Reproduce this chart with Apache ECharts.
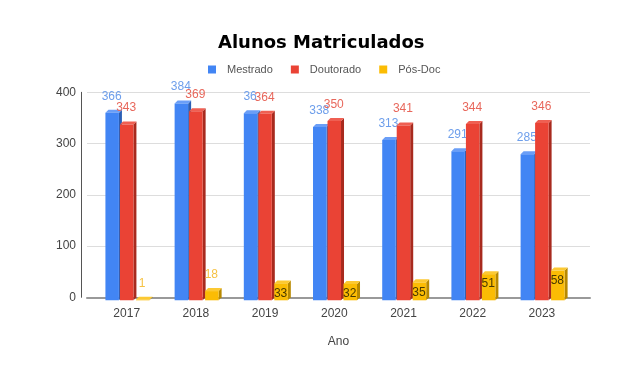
<!DOCTYPE html>
<html><head><meta charset="utf-8">
<script src="https://cdn.jsdelivr.net/npm/echarts@6/dist/echarts.min.js"></script>
<style>html,body{margin:0;padding:0;background:#fff}#c{width:635px;height:383px}</style>
</head><body><div id="c"></div>
<script>
const years = ['2017', '2018', '2019', '2020', '2021', '2022', '2023'];
const mestrado = [366, 384, 365, 338, 313, 291, 285];
const mestradoLabels = ['366', '384', '36', '338', '313', '291', '285'];
const doutorado = [343, 369, 364, 350, 341, 344, 346];
const posdoc = [1, 18, 33, 32, 35, 51, 58];
const yTicks = [0, 100, 200, 300, 400];
const seriesNames = ['Mestrado', 'Doutorado', 'Pós-Doc'];

const FONT = '"Liberation Sans", Arial, sans-serif';
const FACE_W = 13.5, DEPTH = 3;

function render(offset, colors, labelText, labelColor, insideColor, insideMin) {
  return function (params, api) {
    const idx = params.dataIndex;
    const i = api.value(0), v = api.value(1);
    const t = api.coord([i, v]), b = api.coord([i, 0]);
    const x0 = t[0] + offset, x1 = x0 + FACE_W;
    const yt = t[1] + DEPTH, yb = b[1] + DEPTH;
    const children = [
      { type: 'polygon', shape: { points: [[x1, yt], [x1 + DEPTH, yt - DEPTH], [x1 + DEPTH, yb - DEPTH], [x1, yb]] }, style: { fill: colors[1] } },
      { type: 'polygon', shape: { points: [[x0, yt], [x0 + DEPTH, yt - DEPTH], [x1 + DEPTH, yt - DEPTH], [x1, yt]] }, style: { fill: colors[2] } },
      { type: 'rect', shape: { x: x0, y: yt, width: FACE_W, height: Math.max(yb - yt, 0) }, style: { fill: colors[0] } }
    ];
    const inside = insideMin != null && v >= insideMin;
    children.push({
      type: 'text', z2: 10,
      style: {
        text: labelText[idx], x: (x0 + x1) / 2 - 0.5, y: inside ? yt + 10 : t[1] - 13.5,
        align: 'center', verticalAlign: 'middle',
        fill: inside ? insideColor : labelColor, font: '12px ' + FONT
      }
    });
    return { type: 'group', children };
  };
}

const chart = echarts.init(document.getElementById('c'));
chart.setOption({
  animation: false,
  backgroundColor: '#fff',
  title: {
    text: 'Alunos Matriculados', left: 213, top: 29,
    textStyle: { fontSize: 18, fontWeight: 'bold', color: '#000', fontFamily: '"DejaVu Sans", sans-serif' }
  },
  legend: {
    data: seriesNames, left: 203, top: 59, icon: 'rect',
    itemWidth: 8, itemHeight: 8, itemGap: 18,
    textStyle: { fontSize: 11, color: '#555', fontFamily: FONT, padding: [0, 0, 0, 6] }
  },
  grid: { left: 87, right: 45, top: 92.3, bottom: 85.7, containLabel: false },
  xAxis: {
    type: 'value', min: -0.574, max: 6.695,
    name: 'Ano', nameLocation: 'middle', nameGap: 38,
    nameTextStyle: { fontSize: 12, color: '#444', fontFamily: FONT },
    axisLine: { show: true, onZero: false, lineStyle: { color: '#999', width: 2 } },
    axisTick: { show: false },
    splitLine: { show: false },
    axisLabel: {
      customValues: years.map((y, i) => i),
      formatter: v => years[Math.round(v)] || '',
      margin: 10, fontSize: 12, color: '#444', fontFamily: FONT
    }
  },
  yAxis: {
    type: 'value', min: yTicks[0], max: yTicks[yTicks.length - 1], interval: yTicks[1] - yTicks[0],
    offset: 6,
    axisLine: { show: true, onZero: false, lineStyle: { color: '#555', width: 1 } },
    axisTick: { show: false },
    axisLabel: { margin: 5, fontSize: 12, color: '#444', fontFamily: FONT },
    splitLine: { lineStyle: { color: '#ddd', width: 1 } }
  },
  series: [
    {
      name: seriesNames[0], type: 'custom', z: 2, itemStyle: { color: '#4285F4' },
      encode: { x: 0, y: 1 },
      data: mestrado.map((v, i) => [i, v]),
      renderItem: render(-21.3, ['#4285F4', '#2b5fb5', '#6a9ef7'], mestradoLabels, '#6d9eeb', null, null)
    },
    {
      name: seriesNames[1], type: 'custom', z: 3, itemStyle: { color: '#EA4335' },
      encode: { x: 0, y: 1 },
      data: doutorado.map((v, i) => [i, v]),
      renderItem: render(-6.8, ['#EA4335', '#a82a1e', '#ef5f52'], doutorado.map(String), '#e8675b', null, null)
    },
    {
      name: seriesNames[2], type: 'custom', z: 4, itemStyle: { color: '#FBBC04' },
      encode: { x: 0, y: 1 },
      data: posdoc.map((v, i) => [i, v]),
      renderItem: render(9.2, ['#FBBC04', '#b88900', '#fcc933'], posdoc.map(String), '#f6c244', '#4a3a00', 30)
    }
  ]
});
</script>
</body></html>
